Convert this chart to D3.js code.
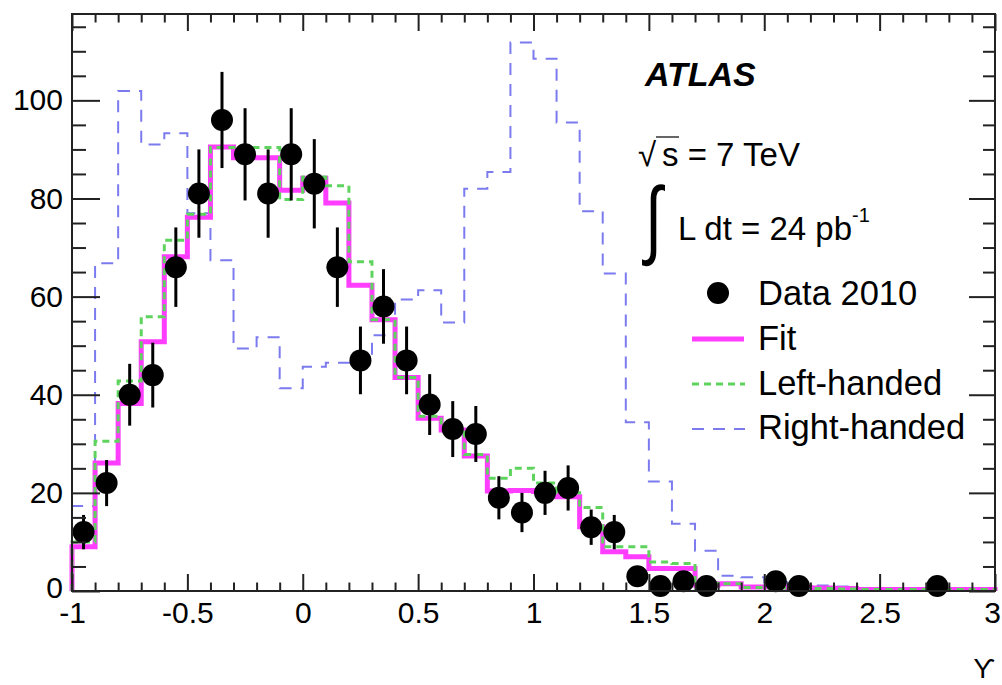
<!DOCTYPE html>
<html>
<head>
<meta charset="utf-8">
<script src="https://cdn.jsdelivr.net/npm/d3@7"></script>
<style>
  html, body { margin: 0; padding: 0; background: #fff; }
  svg { display: block; }
  text { font-family: "Liberation Sans", Arial, Helvetica, sans-serif; fill: #000; }
</style>
</head>
<body>
<svg id="chart" width="1002" height="685"></svg>
<script>
// Histogram binning: 40 bins of width 0.1 from -1 to 3
const binLow = -1;
const binWidth = 0.1;

// Fitted template (sum of left- and right-handed), per bin
const fitValues = [
  9.0, 26.1, 38.2, 50.8, 68.1, 76.2, 90.5, 88.3, 88.3, 81.7,
  84.1, 79.1, 62.3, 55.3, 43.5, 35.2, 32.8, 27.5, 20.4, 20.5,
  20.3, 19.2, 13.1, 8.0, 7.0, 4.6, 4.6, 1.2, 1.5, 0.8,
  0.8, 0.7, 0.6, 0.5, 0.3, 0.3, 0.3, 0.3, 0.3, 0.3
];

// Left-handed tau template, per bin
const leftValues = [
  10.0, 30.5, 42.8, 55.9, 71.5, 76.8, 90.4, 90.4, 90.4, 79.8,
  84.4, 82.6, 67.1, 55.3, 43.5, 35.6, 33.1, 27.8, 23.0, 25.0,
  22.0, 20.0, 17.0, 9.0, 9.0, 5.9, 5.6, 1.6, 1.5, 0.7,
  0.6, 0.5, 0.5, 0.4, 0.3, 0.3, 0.3, 0.2, 0.3, 0.3
];

// Right-handed tau template, per bin
const rightValues = [
  17.3, 66.8, 101.9, 91.0, 93.3, 77.0, 67.4, 49.4, 51.7, 41.3,
  45.7, 46.5, 47.0, 52.1, 59.4, 61.3, 54.7, 82.0, 85.4, 111.8,
  108.5, 95.5, 77.4, 64.7, 34.4, 22.3, 13.7, 8.2, 3.1, 2.8,
  1.8, 1.4, 1.1, 0.9, 0.6, 0.5, 0.4, 0.4, 0.3, 0.3
];

// Data 2010: bin centres, counts and statistical errors (non-empty bins)
const dataX = [
  -0.95, -0.85, -0.75, -0.65, -0.55, -0.45, -0.35, -0.25, -0.15, -0.05,
  0.05, 0.15, 0.25, 0.35, 0.45, 0.55, 0.65, 0.75, 0.85, 0.95,
  1.05, 1.15, 1.25, 1.35, 1.45, 1.55, 1.65, 1.75, 2.05, 2.15, 2.75
];
const dataY = [
  12, 22, 40, 44, 66, 81, 96, 89, 81, 89,
  83, 66, 47, 58, 47, 38, 33, 32, 19, 16,
  20, 21, 13, 12, 3, 1, 2, 1, 2, 1, 1
];
const dataErr = [
  3.5, 4.7, 6.3, 6.6, 8.1, 9.0, 9.8, 9.4, 9.0, 9.4,
  9.1, 8.1, 6.9, 7.6, 6.9, 6.2, 5.7, 5.7, 4.4, 4.0,
  4.5, 4.6, 3.6, 3.5, 1.7, 1.0, 1.4, 1.0, 1.4, 1.0, 1.0
];

// Axis ticks and labels
const xMajorTicks = [-1, -0.5, 0, 0.5, 1, 1.5, 2, 2.5, 3];
const xTickLabels = ["-1", "-0.5", "0", "0.5", "1", "1.5", "2", "2.5", "3"];
const yMajorTicks = [0, 20, 40, 60, 80, 100];
const yTickLabels = ["0", "20", "40", "60", "80", "100"];

const legendLabels = ["Data 2010", "Fit", "Left-handed", "Right-handed"];

// Colours
const colFit = "#ff3dff";
const colLeft = "#5ed45e";
const colRight = "#7b7bef";

const svg = d3.select("#chart");
const frame = { left: 72, right: 995, top: 14, bottom: 591 };

const x = d3.scaleLinear().domain([-1, 3]).range([frame.left, frame.right]);
const y = d3.scaleLinear().domain([0, 117.6]).range([frame.bottom, frame.top]);

const xMinor = d3.range(-1, 3.0001, 0.1).map(v => +v.toFixed(1)).filter(v => !xMajorTicks.includes(v));
const yMinor = d3.range(0, 117, 5).filter(v => !yMajorTicks.includes(v));

// ---- histograms as step lines ----
function stepPoints(values) {
  const pts = [[binLow, 0]];
  values.forEach((v, i) => pts.push([binLow + i * binWidth, v]));
  const hi = binLow + values.length * binWidth;
  pts.push([hi, values[values.length - 1]]);
  pts.push([hi, 0]);
  return pts;
}
const step = d3.line()
  .x(d => x(d[0]))
  .y(d => y(d[1]))
  .curve(d3.curveStepAfter);

const plot = svg.append("g");

plot.append("path")
  .attr("d", step(stepPoints(rightValues)))
  .attr("fill", "none")
  .attr("stroke", colRight)
  .attr("stroke-width", 2)
  .attr("stroke-dasharray", "12,9");

plot.append("path")
  .attr("d", step(stepPoints(fitValues)))
  .attr("fill", "none")
  .attr("stroke", colFit)
  .attr("stroke-width", 5);

plot.append("path")
  .attr("d", step(stepPoints(leftValues)))
  .attr("fill", "none")
  .attr("stroke", colLeft)
  .attr("stroke-width", 3)
  .attr("stroke-dasharray", "7,5");

// ---- data points with error bars ----
const pts = dataX.map((d, i) => ({ x: d, y: dataY[i], e: dataErr[i] }));
const gData = plot.append("g");
gData.selectAll("line.err").data(pts).join("line")
  .attr("class", "err")
  .attr("x1", d => x(d.x)).attr("x2", d => x(d.x))
  .attr("y1", d => y(d.y - d.e)).attr("y2", d => y(d.y + d.e))
  .attr("stroke", "#000").attr("stroke-width", 3);
gData.selectAll("circle").data(pts).join("circle")
  .attr("cx", d => x(d.x)).attr("cy", d => y(d.y))
  .attr("r", 11).attr("fill", "#000");

// ---- axes (ticks pointing inward) ----
function styleAxis(g) {
  g.select(".domain").remove();
  g.selectAll(".tick line").attr("stroke", "#222").attr("stroke-width", 2);
  g.selectAll(".tick text").attr("font-size", 30).attr("fill", "#000")
    .attr("font-family", '"Liberation Sans", Arial, sans-serif');
}

svg.append("g").attr("transform", `translate(0,${frame.bottom})`)
  .call(d3.axisBottom(x).tickValues(xMajorTicks).tickSize(-17).tickPadding(11)
    .tickFormat((d, i) => xTickLabels[i]))
  .call(styleAxis)
  .call(g => g.selectAll(".tick text").filter(d => d === 3).attr("dx", -3));
svg.append("g").attr("transform", `translate(0,${frame.bottom})`)
  .call(d3.axisBottom(x).tickValues(xMinor).tickSize(-8.5).tickFormat(""))
  .call(styleAxis);
svg.append("g").attr("transform", `translate(0,${frame.top})`)
  .call(d3.axisTop(x).tickValues(xMajorTicks).tickSize(-17).tickFormat(""))
  .call(styleAxis);
svg.append("g").attr("transform", `translate(0,${frame.top})`)
  .call(d3.axisTop(x).tickValues(xMinor).tickSize(-8.5).tickFormat(""))
  .call(styleAxis);

svg.append("g").attr("transform", `translate(${frame.left},0)`)
  .call(d3.axisLeft(y).tickValues(yMajorTicks).tickSize(-28).tickPadding(9)
    .tickFormat((d, i) => yTickLabels[i]))
  .call(styleAxis)
  .call(g => g.selectAll(".tick text").filter(d => d === 0).attr("dy", "0.22em"));
svg.append("g").attr("transform", `translate(${frame.left},0)`)
  .call(d3.axisLeft(y).tickValues(yMinor).tickSize(-14).tickFormat(""))
  .call(styleAxis);
svg.append("g").attr("transform", `translate(${frame.right},0)`)
  .call(d3.axisRight(y).tickValues(yMajorTicks).tickSize(-26).tickFormat(""))
  .call(styleAxis);
svg.append("g").attr("transform", `translate(${frame.right},0)`)
  .call(d3.axisRight(y).tickValues(yMinor).tickSize(-12).tickFormat(""))
  .call(styleAxis);

// frame
svg.append("rect")
  .attr("x", frame.left).attr("y", frame.top)
  .attr("width", frame.right - frame.left).attr("height", frame.bottom - frame.top)
  .attr("fill", "none").attr("stroke", "#222").attr("stroke-width", 2);

// x-axis title
svg.append("text")
  .attr("x", 995).attr("y", 678)
  .attr("text-anchor", "end")
  .attr("font-family", '"DejaVu Serif", "Liberation Serif", serif')
  .attr("font-size", 28)
  .text("ϒ");

// ---- annotations ----
svg.append("text")
  .attr("x", 645).attr("y", 86)
  .attr("font-size", 34).attr("font-weight", "bold").attr("font-style", "italic")
  .text("ATLAS");

// √s = 7 TeV
svg.append("text")
  .attr("x", 638).attr("y", 166)
  .attr("font-size", 33)
  .text("√");
svg.append("line")
  .attr("x1", 656).attr("x2", 679).attr("y1", 137).attr("y2", 137)
  .attr("stroke", "#000").attr("stroke-width", 1.2);
svg.append("text")
  .attr("x", 662).attr("y", 166)
  .attr("font-size", 33)
  .text("s = 7 TeV");

// ∫ L dt = 24 pb^-1
svg.append("text")
  .attr("transform", "translate(645,248) scale(1,1.4)")
  .attr("font-size", 62)
  .attr("font-family", '"Liberation Sans", Arial, sans-serif')
  .text("∫");
const lum = svg.append("text").attr("x", 678).attr("y", 240).attr("font-size", 33);
lum.append("tspan").text("L dt = 24 pb");
lum.append("tspan").attr("font-size", 20).attr("dy", -18).text("-1");

// ---- legend ----
const legY = [293, 339, 384, 429];
const legText = [305, 350, 395, 439];
svg.append("circle").attr("cx", 718).attr("cy", legY[0]).attr("r", 11).attr("fill", "#000");
svg.append("line").attr("x1", 692).attr("x2", 744).attr("y1", legY[1]).attr("y2", legY[1])
  .attr("stroke", colFit).attr("stroke-width", 5);
svg.append("line").attr("x1", 692).attr("x2", 745).attr("y1", legY[2]).attr("y2", legY[2])
  .attr("stroke", colLeft).attr("stroke-width", 3).attr("stroke-dasharray", "7,5");
svg.append("line").attr("x1", 692).attr("x2", 745).attr("y1", legY[3]).attr("y2", legY[3])
  .attr("stroke", colRight).attr("stroke-width", 2).attr("stroke-dasharray", "12,9");
legendLabels.forEach((t, i) => {
  svg.append("text").attr("x", 758).attr("y", legText[i]).attr("font-size", 34.5).text(t);
});
</script>
</body>
</html>
